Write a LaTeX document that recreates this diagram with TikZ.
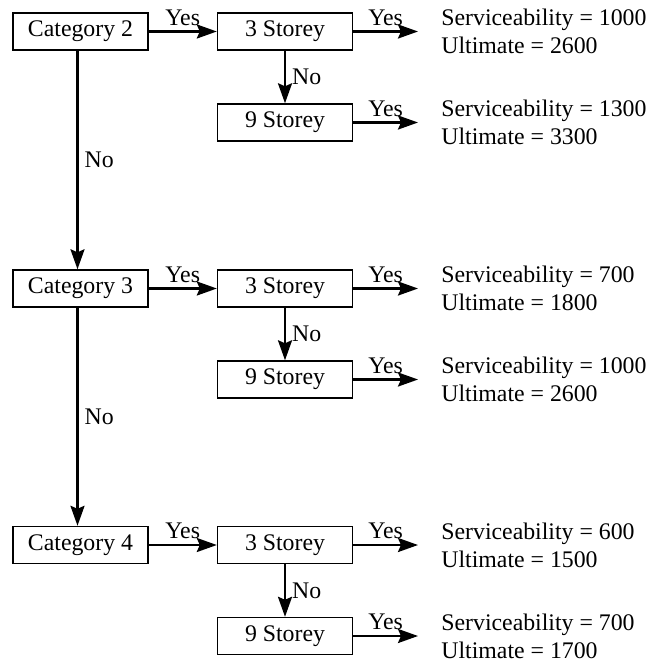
\documentclass[tikz,border=0pt]{standalone}
\usepackage{fontspec}
\setmainfont{Liberation Serif}
\usetikzlibrary{arrows.meta}

\tikzset{
    box/.style={draw, line width=0.7pt, minimum width=67.5pt, minimum height=18.5pt, inner sep=0pt},
    res/.style={anchor=west, align=left, inner sep=0pt},
    arr/.style={line width=1.2pt, -{Stealth[length=10pt, width=7pt, inset=1.5pt]}},
    yes/.style={midway, above, inner sep=2.5pt},
    no/.style={midway, right, inner sep=3pt},
}

\begin{document}
\begin{tikzpicture}[x=0.5pt, y=-0.5pt, font=\fontsize{11.9}{14}\selectfont]

        \useasboundingbox (0, 0) rectangle (651, 664);

        % category boxes
        \node[box] (cat2) at (80.5, 31.5) {Category 2};
        \node[box] (cat3) at (80.5, 288.5) {Category 3};
        \node[box] (cat4) at (80.5, 545) {Category 4};

        % storey boxes
        \node[box] (st3a) at (285, 31.5) {3 Storey};
        \node[box] (st9a) at (285, 122.5) {9 Storey};
        \node[box] (st3b) at (285, 288.5) {3 Storey};
        \node[box] (st9b) at (285, 379.5) {9 Storey};
        \node[box] (st3c) at (285, 545) {3 Storey};
        \node[box] (st9c) at (285, 636) {9 Storey};

        % results
        \node[res] (res3a) at (441, 31.5) {Serviceability = 1000\\Ultimate = 2600};
        \node[res] (res9a) at (441, 122.5) {Serviceability = 1300\\Ultimate = 3300};
        \node[res] (res3b) at (441, 288.5) {Serviceability = 700\\Ultimate = 1800};
        \node[res] (res9b) at (441, 379.5) {Serviceability = 1000\\Ultimate = 2600};
        \node[res] (res3c) at (441, 545) {Serviceability = 600\\Ultimate = 1500};
        \node[res] (res9c) at (441, 636) {Serviceability = 700\\Ultimate = 1700};

        \draw[arr] (cat2) -- (st3a) node[yes] {Yes};
        \draw[arr] (cat3) -- (st3b) node[yes] {Yes};
        \draw[arr] (cat4) -- (st3c) node[yes] {Yes};

        \draw[arr] ([xshift=-1.5pt]cat2.south) -- ([xshift=-1.5pt]cat3.north) node[no] {No};
        \draw[arr] ([xshift=-1.5pt]cat3.south) -- ([xshift=-1.5pt]cat4.north) node[no] {No};

        \draw[arr] (st3a) -- (st9a) node[no] {No};
        \draw[arr] (st3b) -- (st9b) node[no] {No};
        \draw[arr] (st3c) -- (st9c) node[no] {No};

        \draw[arr] (st3a.east) -- ([xshift=-11.5pt]res3a.west) node[yes] {Yes};
        \draw[arr] (st9a.east) -- ([xshift=-11.5pt]res9a.west) node[yes] {Yes};
        \draw[arr] (st3b.east) -- ([xshift=-11.5pt]res3b.west) node[yes] {Yes};
        \draw[arr] (st9b.east) -- ([xshift=-11.5pt]res9b.west) node[yes] {Yes};
        \draw[arr] (st3c.east) -- ([xshift=-11.5pt]res3c.west) node[yes] {Yes};
        \draw[arr] (st9c.east) -- ([xshift=-11.5pt]res9c.west) node[yes] {Yes};

\end{tikzpicture}
\end{document}
